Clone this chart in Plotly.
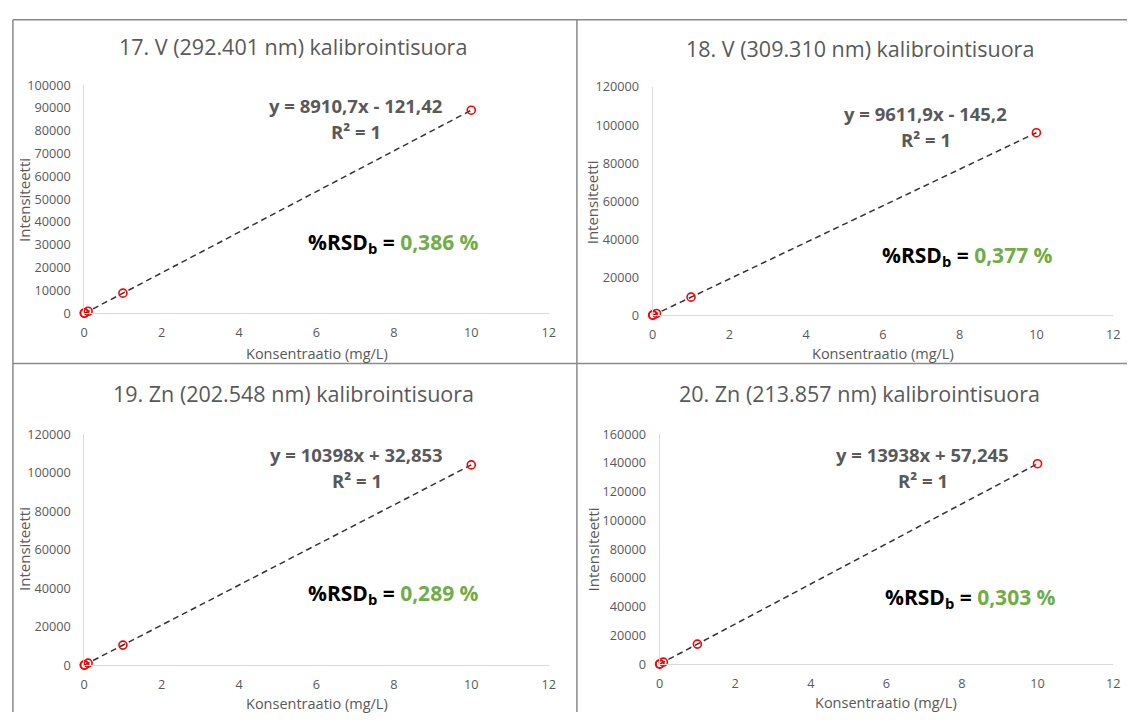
import plotly.graph_objects as go

W, H = 1134, 720

# ---------------- data ----------------
conc = [0, 0.01, 0.1, 1, 10]

titles = [
    "17. V (292.401 nm) kalibrointisuora",
    "18. V (309.310 nm) kalibrointisuora",
    "19. Zn (202.548 nm) kalibrointisuora",
    "20. Zn (213.857 nm) kalibrointisuora",
]

int_v292 = [10, 90, 860, 8790, 88990]
int_v309 = [10, 100, 900, 9470, 95970]
int_zn202 = [60, 140, 1070, 10430, 104010]
int_zn213 = [80, 200, 1450, 14000, 139430]

slopes = [8910.7, 9611.9, 10398, 13938]
intercepts = [-121.42, -145.2, 32.853, 57.245]
eq_labels = [
    "y = 8910,7x - 121,42",
    "y = 9611,9x - 145,2",
    "y = 10398x + 32,853",
    "y = 13938x + 57,245",
]
r2_labels = ["R² = 1", "R² = 1", "R² = 1", "R² = 1"]
rsd_values = ["0,386 %", "0,377 %", "0,289 %", "0,303 %"]

y_max = [100000, 120000, 120000, 160000]
y_dtick = [10000, 20000, 20000, 20000]
x_ticks = [0, 2, 4, 6, 8, 10, 12]

x_title = "Konsentraatio (mg/L)"
y_title = "Intensiteetti"

intensities = [int_v292, int_v309, int_zn202, int_zn213]

# ---------------- layout (pixels) ----------------
# plot area: left, right, top, bottom
boxes = [(81, 550, 77, 311), (655, 1120, 79, 313), (81, 550, 435, 672), (662, 1120, 435, 671)]
title_pos = [(292, 37), (864, 39), (292, 393), (864, 393)]
eq_pos = [(355, 98), (931, 106), (356, 456), (928, 456)]
r2_pos = [(355, 125), (931, 133), (356, 483), (928, 483)]
rsd_pos = [(393, 239), (973, 252), (393, 599), (976, 603)]
ytitle_pos = [(20, 195), (594, 197), (20, 553), (595, 553)]
xtitle_pos = [(316, 352), (888, 352), (316, 711), (891, 710)]

FONT = "Open Sans"
GRAY = "#595959"


def px(x):
    return x / W


def py(y):
    return 1 - y / H


fig = go.Figure()
annotations = []
shapes = []

for i in range(4):
    n = i + 1
    xa = "x" if n == 1 else f"x{n}"
    ya = "y" if n == 1 else f"y{n}"
    l, r, t, b = boxes[i]

    # trendline from the displayed equation
    tx = [min(conc), max(conc)]
    ty = [slopes[i] * v + intercepts[i] for v in tx]
    fig.add_trace(go.Scatter(
        x=tx, y=ty, mode="lines", xaxis=xa, yaxis=ya,
        line=dict(color="#333333", width=1.5, dash="6px,4px"),
        showlegend=False, hoverinfo="skip", cliponaxis=False,
    ))
    fig.add_trace(go.Scatter(
        x=conc, y=intensities[i], mode="markers", xaxis=xa, yaxis=ya,
        marker=dict(symbol="circle-open", size=8, color="#FF0000", line=dict(width=1.6, color="#FF0000")),
        showlegend=False, cliponaxis=False,
    ))

    axis_common = dict(showgrid=False, zeroline=False, showline=True, linecolor="#d9d9d9",
                       linewidth=1, ticks="", tickfont=dict(family=FONT, size=12.7, color=GRAY))
    fig.update_layout(**{
        ("xaxis" if n == 1 else f"xaxis{n}"): dict(
            domain=[px(l), px(r)], anchor=ya, range=[0, 12], tickvals=x_ticks,
            ticklabelstandoff=8, **axis_common),
        ("yaxis" if n == 1 else f"yaxis{n}"): dict(
            domain=[py(b), py(t)], anchor=xa, range=[0, y_max[i]], dtick=y_dtick[i],
            tickformat="d", ticklabelstandoff=10, **axis_common),
    })

    def ann(pos, text, size, color=GRAY, angle=0):
        annotations.append(dict(
            x=px(pos[0]), y=py(pos[1]), xref="paper", yref="paper", text=text,
            showarrow=False, xanchor="center", yanchor="middle", textangle=angle,
            font=dict(family=FONT, size=size, color=color),
        ))

    ann(title_pos[i], titles[i], 21.5)
    ann(eq_pos[i], f"<b>{eq_labels[i]}</b>", 18.5)
    ann(r2_pos[i], f"<b>{r2_labels[i]}</b>", 18.5)
    ann(rsd_pos[i], f"<b>%RSD<sub>b</sub> = <span style='color:#70AD47'>{rsd_values[i]}</span></b>", 21, color="#000000")
    ann(ytitle_pos[i], y_title, 15, angle=-90)
    ann(xtitle_pos[i], x_title, 14.5)

# panel borders
BORDER = "#8a8a8a"
for x0, y0, x1, y1 in [(9, 10, 1134, 10), (9, 362.5, 1134, 362.5), (9, 10, 9, 720), (578.5, 10, 578.5, 720)]:
    shapes.append(dict(type="line", xref="paper", yref="paper",
                       x0=px(x0), y0=py(y0), x1=px(x1), y1=py(y1),
                       line=dict(color=BORDER, width=1.5)))

fig.update_layout(
    width=W, height=H, margin=dict(l=0, r=0, t=0, b=0),
    paper_bgcolor="white", plot_bgcolor="white",
    annotations=annotations, shapes=shapes, showlegend=False,
    font=dict(family=FONT, color=GRAY),
)

fig.write_html("out.html")
